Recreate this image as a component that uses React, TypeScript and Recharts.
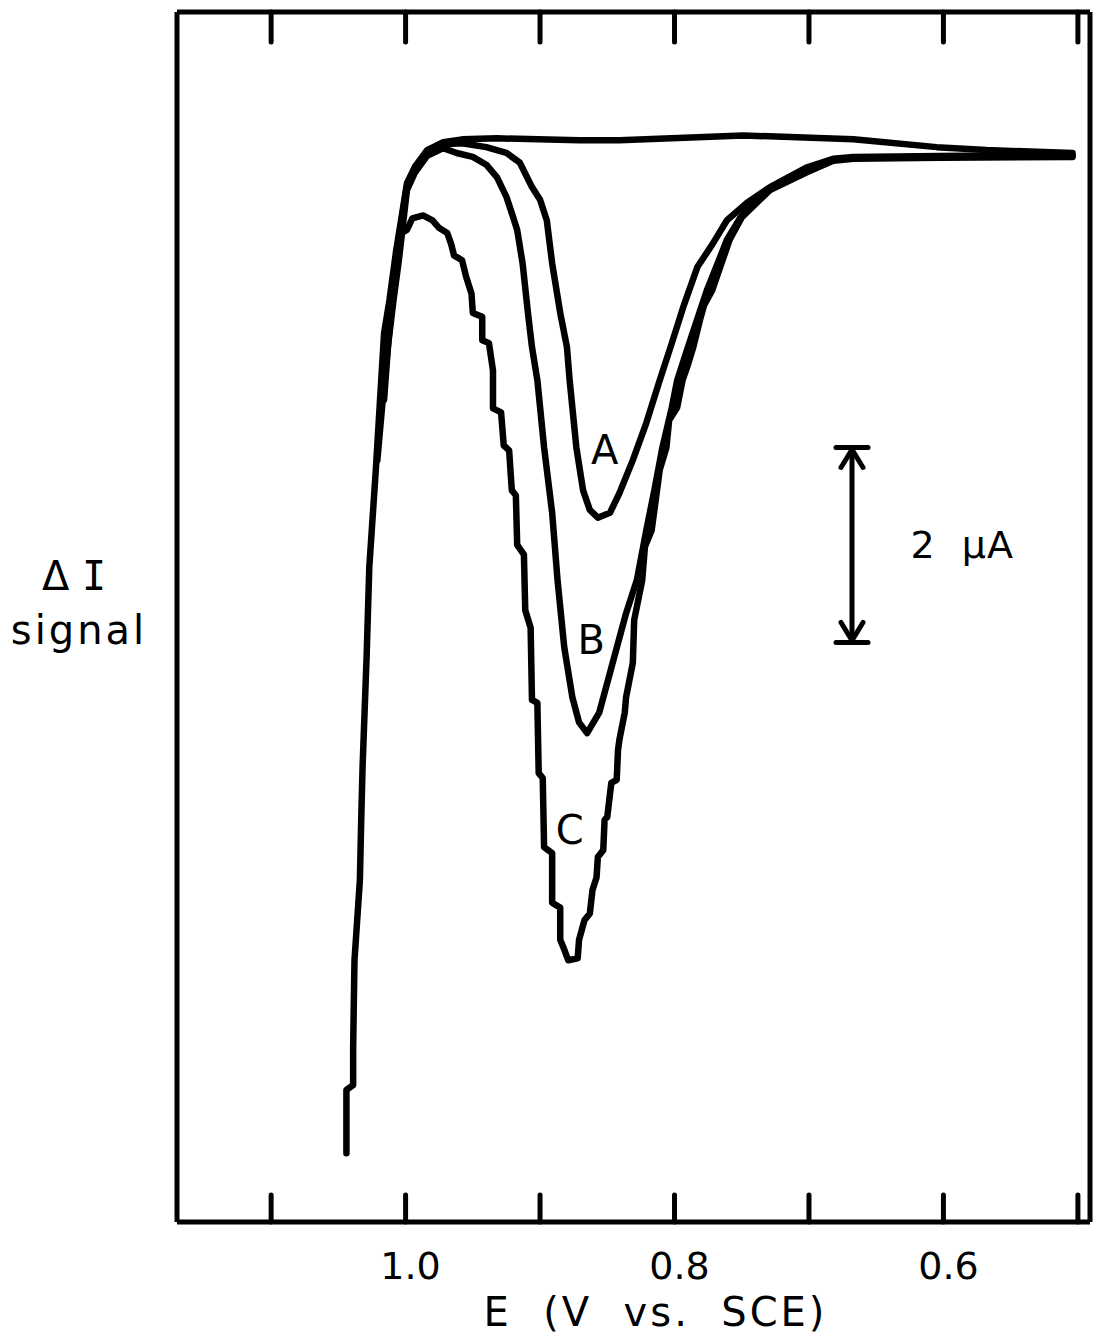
import {
  LineChart,
  Line,
  XAxis,
  YAxis,
  ReferenceLine,
  ReferenceDot,
} from "recharts";

// E in V vs. SCE, I in µA relative to baseline
const sweep = [
  [1.044, -10.27], [1.044, -9.62], [1.039, -9.57], [1.039, -9.18], [1.038, -8.29],
  [1.034, -7.47], [1.033, -6.85], [1.032, -6.31], [1.029, -5.18], [1.027, -4.26],
  [1.022, -3.23], [1.019, -2.54], [1.016, -1.86], [1.012, -1.52], [1.007, -1.01],
  [1.003, -0.67], [0.999, -0.32], [0.993, -0.15], [0.984, 0.02], [0.972, 0.1],
  [0.958, 0.13], [0.932, 0.14], [0.871, 0.12], [0.841, 0.12], [0.749, 0.17],
  [0.667, 0.13], [0.605, 0.05], [0.568, 0.02], [0.504, -0.01],
];

const curveA = [
  [0.504, -0.03], [0.603, -0.04], [0.667, -0.05], [0.682, -0.07], [0.702, -0.16],
  [0.729, -0.36], [0.746, -0.52], [0.761, -0.7], [0.772, -0.95], [0.783, -1.18],
  [0.793, -1.57], [0.802, -1.96], [0.811, -2.34], [0.821, -2.78], [0.831, -3.16],
  [0.841, -3.5], [0.848, -3.7], [0.857, -3.75], [0.863, -3.67], [0.868, -3.47],
  [0.873, -3.03], [0.878, -2.34], [0.88, -2.0], [0.885, -1.65], [0.891, -1.14],
  [0.895, -0.7], [0.9, -0.49], [0.906, -0.36], [0.915, -0.11], [0.925, -0.01],
  [0.94, 0.05], [0.958, 0.09], [0.972, 0.08], [0.984, 0.0], [0.993, -0.16],
  [0.999, -0.35], [1.003, -0.7], [1.006, -1.06], [1.01, -1.52], [1.014, -1.93],
  [1.018, -2.54],
];

const curveB = [
  [0.504, -0.04], [0.603, -0.05], [0.667, -0.06], [0.682, -0.08], [0.702, -0.18],
  [0.729, -0.37], [0.751, -0.67], [0.761, -0.9], [0.769, -1.18], [0.776, -1.42],
  [0.79, -2.0], [0.798, -2.34], [0.802, -2.62], [0.809, -3.03], [0.815, -3.47],
  [0.821, -3.88], [0.828, -4.39], [0.836, -4.73], [0.846, -5.24], [0.856, -5.75],
  [0.865, -5.96], [0.871, -5.85], [0.876, -5.59], [0.882, -5.08], [0.887, -4.39],
  [0.891, -3.7], [0.897, -3.03], [0.902, -2.34], [0.906, -2.0], [0.909, -1.65],
  [0.913, -1.14], [0.917, -0.8], [0.92, -0.67], [0.925, -0.46], [0.932, -0.26],
  [0.94, -0.13], [0.95, -0.05], [0.962, -0.01], [0.972, 0.04], [0.984, -0.04],
  [0.993, -0.21], [0.999, -0.39], [1.002, -0.75], [1.005, -1.11], [1.009, -1.52],
  [1.013, -1.98], [1.016, -2.54],
];

const curveC = [
  [0.504, -0.05], [0.603, -0.06], [0.667, -0.07], [0.682, -0.09], [0.702, -0.21],
  [0.729, -0.39], [0.75, -0.67], [0.759, -0.9], [0.766, -1.18], [0.772, -1.42],
  [0.778, -1.57], [0.781, -1.72], [0.786, -2.0], [0.79, -2.18], [0.794, -2.34],
  [0.798, -2.62], [0.804, -2.75], [0.806, -3.03], [0.811, -3.26], [0.813, -3.47],
  [0.817, -3.88], [0.822, -4.05], [0.824, -4.39], [0.83, -4.8], [0.831, -5.24],
  [0.836, -5.59], [0.837, -5.75], [0.841, -6.03], [0.842, -6.13], [0.843, -6.44],
  [0.847, -6.47], [0.85, -6.82], [0.852, -6.85], [0.853, -7.16], [0.857, -7.23],
  [0.858, -7.44], [0.861, -7.57], [0.863, -7.81], [0.867, -7.88], [0.871, -8.08],
  [0.872, -8.27], [0.879, -8.29], [0.882, -8.18], [0.885, -8.08], [0.885, -7.75],
  [0.891, -7.7], [0.891, -7.19], [0.897, -7.13], [0.898, -6.42], [0.901, -6.37],
  [0.902, -5.65], [0.906, -5.62], [0.907, -4.88], [0.911, -4.7], [0.912, -4.13],
  [0.917, -4.03], [0.918, -3.52], [0.921, -3.47], [0.923, -3.06], [0.927, -3.01],
  [0.929, -2.67], [0.935, -2.63], [0.935, -2.24], [0.938, -1.96], [0.943, -1.93],
  [0.943, -1.69], [0.95, -1.65], [0.951, -1.45], [0.955, -1.28], [0.958, -1.11],
  [0.964, -1.06], [0.966, -0.95], [0.969, -0.83], [0.975, -0.78], [0.98, -0.7],
  [0.987, -0.65], [0.995, -0.68], [0.999, -0.8], [1.003, -0.83], [1.006, -1.11],
  [1.01, -1.52], [1.013, -1.98], [1.017, -2.54], [1.021, -3.16],
];

const xTicks = [1.1, 1.0, 0.9, 0.8, 0.7, 0.6, 0.5];
const labeledTicks = [1.0, 0.8, 0.6];
const xDomain = [0.491, 1.17];
const yDomain = [-10.974, 1.436];

// curve labels: [text, E, I]
const curveLabels: [string, number, number][] = [
  ["A", 0.852, -3.06],
  ["B", 0.862, -5.0],
  ["C", 0.878, -6.95],
];
const scaleBar = { e: 0.668, top: -3.03, bottom: -5.03, text: "2  µA", textE: 0.586 };

const FONT = "DejaVu Sans";
const BOX = { stroke: "#000", strokeWidth: 5 };

const toPts = (arr: number[][]) => arr.map(([e, i]) => ({ e, i }));

// @ts-ignore
const BottomTick = (props) => {
  const { x, y, payload } = props;
  const v = payload.value;
  if (!labeledTicks.some((l) => Math.abs(l - v) < 1e-6)) return <g />;
  return (
    <text
      x={x + 5}
      y={y + 44}
      textAnchor="middle"
      dominantBaseline="central"
      fontSize={38}
      fontFamily={FONT}
      fill="#000"
    >
      {v.toFixed(1)}
    </text>
  );
};

// inward tick marks on the top and bottom frame
// @ts-ignore
const TickPair = (props) => {
  const { x1, y1, y2 } = props;
  const top = Math.min(y1, y2);
  const bot = Math.max(y1, y2);
  return (
    <g stroke="#000" strokeWidth={5} strokeLinecap="round">
      <line x1={x1} y1={top} x2={x1} y2={top + 30} />
      <line x1={x1} y1={bot} x2={x1} y2={bot - 27} />
    </g>
  );
};

// @ts-ignore
const ScaleBar = (props) => {
  const { x1, y1, y2 } = props;
  const x = x1;
  return (
    <g stroke="#000" strokeWidth={5} strokeLinecap="round" fill="none">
      <line x1={x} y1={y1} x2={x} y2={y2} />
      <line x1={x - 16} y1={y1} x2={x + 16} y2={y1} />
      <line x1={x - 16} y1={y2} x2={x + 16} y2={y2} />
      <polyline points={`${x - 11},${y1 + 20} ${x},${y1 + 2} ${x + 11},${y1 + 20}`} />
      <polyline points={`${x - 11},${y2 - 20} ${x},${y2 - 2} ${x + 11},${y2 - 20}`} />
    </g>
  );
};

// @ts-ignore
const PreLabel = (text: string, size: number, spacing = 0) => (props) => {
  const vb = props.viewBox || {};
  const cx = vb.x + (vb.width || 0) / 2;
  const cy = vb.y + (vb.height || 0) / 2;
  return (
    <text
      x={cx}
      y={cy}
      textAnchor="middle"
      dominantBaseline="central"
      fontSize={size}
      fontFamily={FONT}
      letterSpacing={spacing}
      fill="#000"
      style={{ whiteSpace: "pre" }}
    >
      {text}
    </text>
  );
};

// @ts-ignore
const XTitle = (props) => {
  const vb = props.viewBox;
  return (
    <text
      x={vb.x + vb.width / 2 + 22}
      y={vb.y + 90}
      textAnchor="middle"
      dominantBaseline="central"
      fontSize={40}
      fontFamily={FONT}
      letterSpacing={3}
      fill="#000"
      style={{ whiteSpace: "pre" }}
    >
      E  (V  vs.  SCE)
    </text>
  );
};

// @ts-ignore
const YTitle = (props) => {
  const vb = props.viewBox;
  const cx = vb.x - 102;
  const cy = vb.y + 564;
  return (
    <g fontFamily={FONT} fontSize={40} fill="#000">
      <text x={cx} y={cy} textAnchor="middle" dominantBaseline="central" style={{ whiteSpace: "pre" }}>
        <tspan>Δ </tspan>
        <tspan fontFamily="DejaVu Sans Mono">I</tspan>
      </text>
      <text x={cx + 5} y={cy + 54} textAnchor="middle" dominantBaseline="central" letterSpacing={3}>
        signal
      </text>
    </g>
  );
};

export default function App() {
  return (
    <LineChart
      width={1091}
      height={1326}
      margin={{ top: 3, right: 8, bottom: 0, left: 168 }}
      style={{ background: "#fff" }}
    >
      <XAxis
        xAxisId="b"
        dataKey="e"
        type="number"
        domain={xDomain}
        reversed
        allowDataOverflow
        ticks={xTicks}
        interval={0}
        tickSize={0}
        tickMargin={0}
        tickLine={false}
        tick={<BottomTick />}
        height={112}
        axisLine={BOX}
        label={{ content: XTitle }}
      />
      <XAxis
        xAxisId="t"
        orientation="top"
        type="number"
        domain={xDomain}
        reversed
        allowDataOverflow
        tick={false}
        tickLine={false}
        height={1}
        axisLine={BOX}
      />
      <YAxis
        yAxisId="l"
        type="number"
        domain={yDomain}
        allowDataOverflow
        width={1}
        tick={false}
        tickLine={false}
        axisLine={BOX}
        label={{ content: YTitle }}
      />
      <YAxis
        yAxisId="r"
        orientation="right"
        type="number"
        domain={yDomain}
        allowDataOverflow
        width={1}
        tick={false}
        tickLine={false}
        axisLine={BOX}
      />
      {xTicks.map((v) => (
        <ReferenceLine key={`t${v}`} xAxisId="b" yAxisId="l" x={v} shape={<TickPair />} />
      ))}
      {[sweep, curveA, curveB, curveC].map((s, k) => (
        <Line
          key={k}
          xAxisId="b"
          yAxisId="l"
          data={toPts(s)}
          dataKey="i"
          type="linear"
          stroke="#000"
          strokeWidth={6.5}
          strokeLinejoin="round"
          strokeLinecap="round"
          dot={false}
          isAnimationActive={false}
        />
      ))}
      <ReferenceLine
        xAxisId="b"
        yAxisId="l"
        segment={[
          { x: scaleBar.e, y: scaleBar.top },
          { x: scaleBar.e, y: scaleBar.bottom },
        ]}
        shape={<ScaleBar />}
      />
      <ReferenceDot
        xAxisId="b"
        yAxisId="l"
        x={scaleBar.textE}
        y={(scaleBar.top + scaleBar.bottom) / 2}
        r={0}
        stroke="none"
        label={{ content: PreLabel(scaleBar.text, 38, 1) }}
      />
      {curveLabels.map(([t, e, i]) => (
        <ReferenceDot
          key={t}
          xAxisId="b"
          yAxisId="l"
          x={e}
          y={i}
          r={0}
          stroke="none"
          label={{ content: PreLabel(t, 40) }}
        />
      ))}
    </LineChart>
  );
}
